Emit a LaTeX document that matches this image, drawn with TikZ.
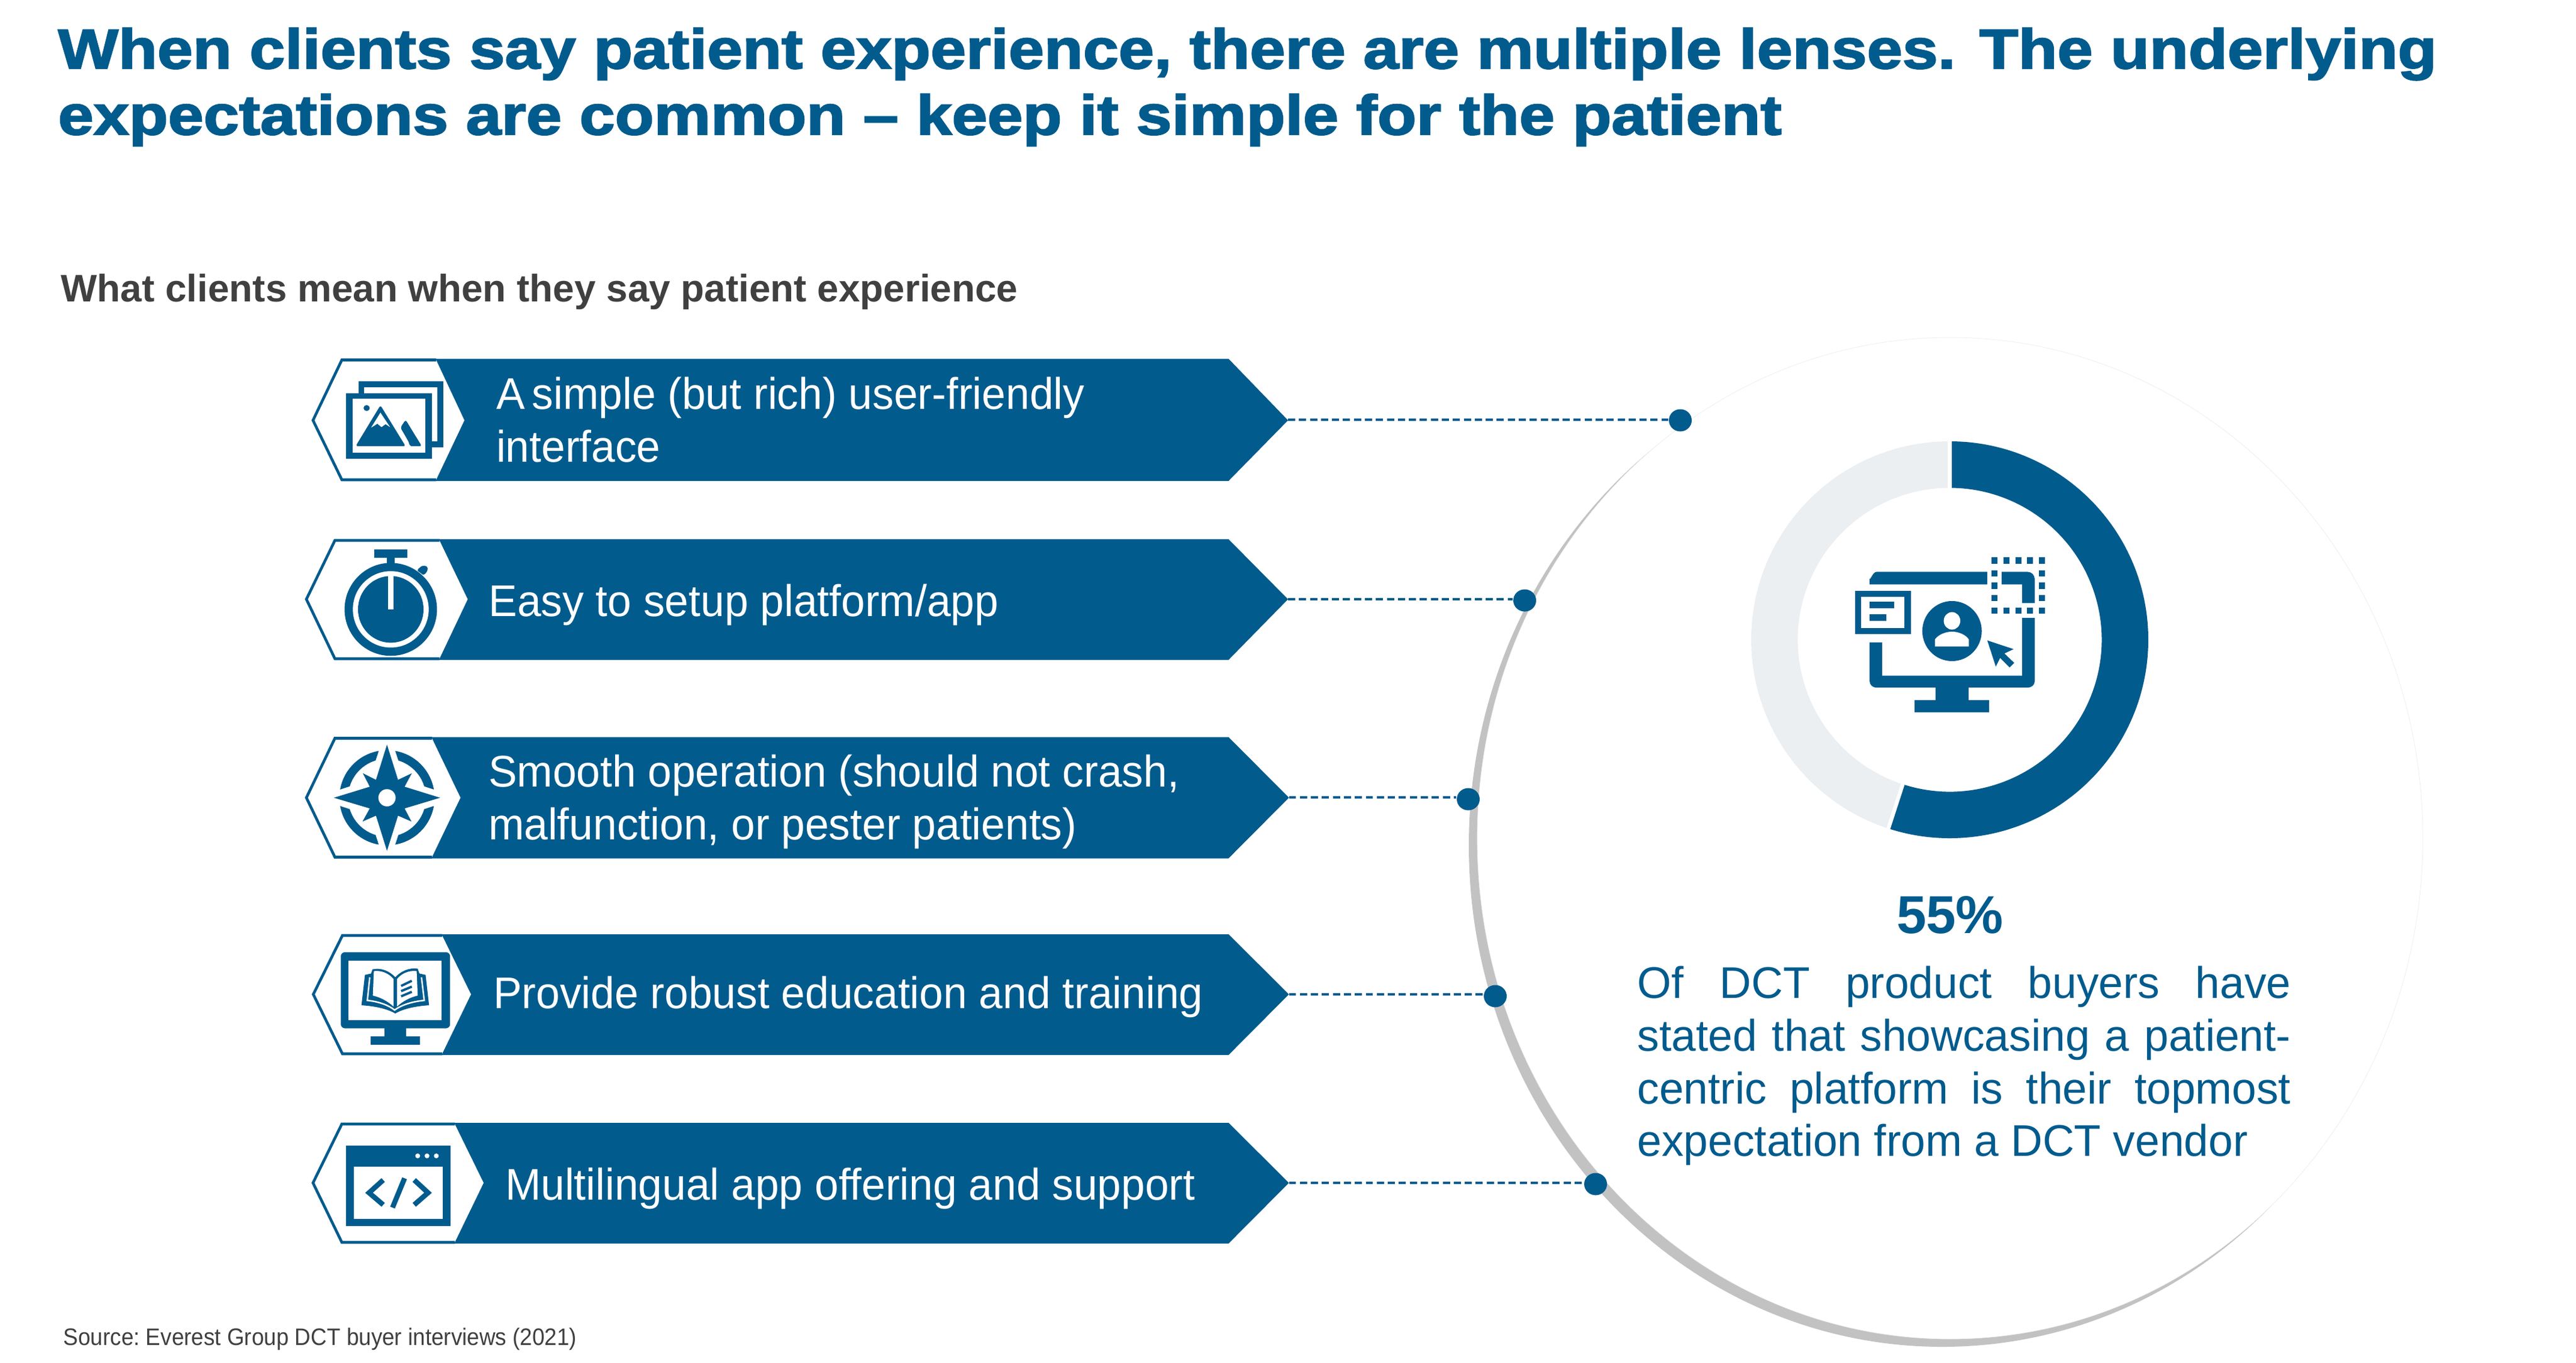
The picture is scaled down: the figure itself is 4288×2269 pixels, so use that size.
\documentclass[tikz,border=0pt]{standalone}
\usepackage{fontspec}
\setmainfont{Liberation Sans}
\newfontfamily\titlefont[FakeBold=2.4,FakeStretch=1.14]{Liberation Sans Bold}
\newfontfamily\labelfont[FakeStretch=0.966]{Liberation Sans}
\newfontfamily\bodyfont[FakeStretch=0.99]{Liberation Sans}
\newfontfamily\sourcefont[FakeStretch=0.928]{Liberation Sans}
\usetikzlibrary{shapes.geometric}
\definecolor{brand}{HTML}{025B8D}
\definecolor{ringgray}{HTML}{EBEFF2}
\definecolor{shellgray}{HTML}{C2C2C2}
\definecolor{inkgray}{HTML}{404040}
\tikzset{
  label/.style={inner sep=0pt,outer sep=0pt,anchor=base west,align=left,text=white,font=\labelfont\fontsize{21}{25}\selectfont},
  connector/.style={draw=brand,line width=1.3pt,dash pattern=on 3.4pt off 1.8pt},
  dotmark/.style={ellipse,fill=brand,inner sep=0pt,minimum width=0.38cm,minimum height=0.37cm},
  hexline/.style={draw=brand,line width=1.3pt,line join=miter}
}
\newcommand\rowshape[9]{%
  \fill[brand] (#5,#1) -- (#8,#1) -- (#9,#2) -- (#8,#3) -- (#5,#3) -- cycle;
  \fill[white] ({#4+2},#2) -- (#5,{#1+2}) -- (#6,{#1+2}) -- (#7,#2) -- (#6,{#3-2}) -- (#5,{#3-2}) -- cycle;
  \draw[hexline] (#6,{#1+2}) -- (#5,{#1+2}) -- ({#4+2.5},#2) -- (#5,{#3-2}) -- (#6,{#3-2});
}
\begin{document}
\begin{tikzpicture}[x=0.01cm,y=-0.01cm]
\useasboundingbox (0,0) rectangle (4288,2269);
\fill[white] (0,0) rectangle (4288,2269);
% title
\node[inner sep=0pt,anchor=base west,align=left,text=brand,font=\titlefont\fontsize{26.5}{31.3}\selectfont] (title) at (96,224)
 {When clients say patient experience, there are multiple lenses. The underlying\\expectations are common – keep it simple for the patient};
\node[inner sep=0pt,anchor=base west,text=inkgray,font=\bfseries\fontsize{18.15}{21}\selectfont] (subtitle) at (101,502) {What clients mean when they say patient experience};
\node[inner sep=0pt,anchor=base west,text=inkgray,font=\sourcefont\fontsize{11.3}{13}\selectfont] (source) at (105,2240) {\frenchspacing Source: Everest Group DCT buyer interviews (2021)};
% big shell
\fill[shellgray] (3233,1408) ellipse [x radius=788,y radius=835];
\fill[white] (3246,1396) ellipse [x radius=787,y radius=834];
\draw[black!7,line width=0.2pt] (3246,1396) ellipse [x radius=787,y radius=834];
% banners
\rowshape{597.5}{700}{801}{518.5}{569}{726}{773}{2045}{2144}
\rowshape{898}{998}{1099}{507.5}{557.5}{731.5}{778.5}{2045}{2144}
\rowshape{1227.5}{1328.5}{1429.5}{507.5}{557.5}{719}{766.5}{2045}{2145.5}
\rowshape{1556}{1656}{1757}{519}{570}{736}{784}{2045}{2145.5}
\rowshape{1870}{1970}{2071}{518.5}{569}{757}{805}{2045}{2145.5}
\coordinate (tip1) at (2144,699);
\coordinate (tip2) at (2144,998);
\coordinate (tip3) at (2145.5,1328);
\coordinate (tip4) at (2145.5,1656);
\coordinate (tip5) at (2145.5,1970);
% labels
\node[label] (t1) at (826,769.7) {A\kern-2.2pt{} simple (but rich) user-friendly\\interface};
\node[label] (t2) at (813.5,1026) {Easy to setup platform/app};
\node[label] (t3) at (813,1398.6) {Smooth operation (should not crash,\\malfunction, or pester patients)};
\node[label] (t4) at (821,1679) {Provide robust education and training};
\node[label] (t5) at (841,1998) {Multilingual app offering and support};
% dots and connectors
\node[dotmark] (d1) at (2797,700) {};
\node[dotmark] (d2) at (2538,1000) {};
\node[dotmark] (d3) at (2444,1331) {};
\node[dotmark] (d4) at (2489,1659) {};
\node[dotmark] (d5) at (2656,1972) {};
\foreach \i in {1,...,5} \draw[connector] (tip\i) -- (tip\i -| d\i.west);
% donut
\fill[ringgray] (3245.5,1065.5) ++(-90:330.5) arc[start angle=-90,end angle=-252,radius=330.5] -- ({3245.5+253*cos(108)},{1065.5+253*sin(108)}) arc[start angle=108,end angle=270,radius=253] -- cycle;
\fill[brand] (3245.5,1065.5) ++(-90:330.5) arc[start angle=-90,end angle=108,radius=330.5] -- ({3245.5+253*cos(108)},{1065.5+253*sin(108)}) arc[start angle=108,end angle=-90,radius=253] -- cycle;
\draw[white,line width=1.8pt] (3245.5,730) -- (3245.5,818);
\draw[white,line width=1.8pt] ({3245.5+250*cos(108)},{1065.5+250*sin(108)}) -- ({3245.5+334*cos(108)},{1065.5+334*sin(108)});
% big icon
\begin{scope}[shift={(2900,700)},x=0.005102cm,y=-0.004847cm]
  \fill[brand] (416,563) -- (416,542) to[out=-90,in=180] (438,520) -- (800,520) -- (800,563) -- cycle;
  \fill[brand] (847,520) -- (932,520) to[out=0,in=90] (955,545) -- (955,627) -- (914,627) -- (914,563) -- (847,563) -- cycle;
  \fill[brand] (914,678) -- (955,678) -- (955,895) to[out=-90,in=0] (932,917) -- (739,917) -- (739,960) -- (806,960) -- (806,1002) -- (563,1002) -- (563,960) -- (631,960) -- (631,917) -- (438,917) to[out=180,in=-90] (416,895) -- (416,762) -- (457,762) -- (457,876) -- (914,876) -- cycle;
  \foreach \px in {813,853,892,930,968} {
    \fill[brand] (\px,470) rectangle ++(20,22);
    \fill[brand] (\px,642) rectangle ++(20,21);
  }
  \foreach \py in {514,557,599} {
    \fill[brand] (813,\py) rectangle ++(20,21);
    \fill[brand] (968,\py) rectangle ++(20,21);
  }
  \fill[brand] (368,584) rectangle (551,733);
  \fill[white] (388,606) rectangle (530,712);
  \fill[brand] (416,623) rectangle (496,645);
  \fill[brand] (416,665) rectangle (470,687);
  \fill[brand] (685,723) ellipse [x radius=97,y radius=103];
  \fill[white] (685,688) ellipse [x radius=27,y radius=30];
  \fill[white] (629,776) -- (629,752) .. controls (640,735) and (665,725) .. (685,725) .. controls (705,725) and (730,735) .. (740,752) -- (740,776) -- cycle;
  \fill[brand] (800,755) -- (886,785) -- (856,800) -- (888,832) -- (873,848) -- (842,815) -- (828,845) -- cycle;
\end{scope}
% icon 1
\begin{scope}[shift={(480,560)},x=0.00574cm,y=-0.003827cm]
  \fill[brand] (203,196) rectangle (450,482);
  \fill[white] (220,222) rectangle (432,456);
  \fill[brand] (168,247) rectangle (416,533);
  \fill[white] (186,272) rectangle (398,507);
  \fill[brand] (227,312) ellipse [x radius=9,y radius=13];
  \fill[brand,rounded corners=1pt] (267,300) -- (340,478) -- (195,478) -- cycle;
  \fill[white] (267,332) -- (295,395) -- (282,382) -- (270,395) -- (258,380) -- (250,388) -- (240,397) -- cycle;
  \fill[brand,rounded corners=1pt] (340,363) -- (387,478) -- (352,478) -- (350,462) -- (325,397) -- cycle;
\end{scope}
% icon 2
\begin{scope}[shift={(480,560)},x=0.00574cm,y=-0.003827cm]
  \fill[brand] (297,1187) ellipse [x radius=134,y radius=202];
  \fill[white] (297,1187) ellipse [x radius=110,y radius=166];
  \fill[brand] (297,1187) ellipse [x radius=95,y radius=145];
  \fill[white] (289,1040) rectangle (305,1187);
  \fill[brand] (249,926) rectangle (345,962);
  \fill[brand] (286,960) rectangle (308,992);
  \fill[brand,rounded corners=1pt] (372,1018) -- (388,996) -- (404,1000) -- (404,1020) -- (392,1040) -- (385,1030) -- cycle;
\end{scope}
% icon 3
\begin{scope}[shift={(480,1200)},x=0.00574cm,y=-0.00574cm]
  \fill[brand] (286,70) -- (318,172) -- (358,153) -- (337,192) -- (440,224) -- (337,255) -- (357,293) -- (318,276) -- (286,378) -- (254,276) -- (215,293) -- (236,255) -- (132,224) -- (236,192) -- (216,153) -- (254,172) -- cycle;
  \fill[white] (286,224) circle [radius=25];
  \foreach \q in {0,90,180,270} {
    \fill[brand] ({286+138*cos(\q+10)},{224+138*sin(\q+10)}) arc[start angle=\q+10,end angle=\q+80,radius=138] -- ({286+113*cos(\q+73)},{224+113*sin(\q+73)}) arc[start angle=\q+73,end angle=\q+17,radius=113] -- cycle;
  }
\end{scope}
% icon 4
\begin{scope}[shift={(480,1200)},x=0.00574cm,y=-0.00574cm]
  \fill[brand,rounded corners=2pt] (152,672) rectangle (469,893);
  \fill[white] (175,696) rectangle (445,870);
  \fill[brand] (279,890) rectangle (341,916);
  \fill[brand] (239,916) rectangle (382,941);
  \fill[brand] (212,826) -- (222,738) -- (240,734) -- (244,722) .. controls (270,716) and (295,728) .. (310,745) .. controls (325,728) and (350,716) .. (375,720) -- (380,734) -- (398,738) -- (408,826) .. controls (375,828) and (335,835) .. (310,850) .. controls (285,835) and (245,828) .. (212,826) -- cycle;
  \fill[white] (248,727) .. controls (270,724) and (292,734) .. (305,750) -- (305,830) .. controls (290,815) and (265,802) .. (245,798) -- cycle;
  \fill[white] (372,727) .. controls (350,724) and (328,734) .. (315,750) -- (315,830) .. controls (330,815) and (355,802) .. (375,798) -- cycle;
  \draw[white,line width=0.7pt] (236,745) -- (229,812) .. controls (260,815) and (290,825) .. (308,840) .. controls (328,825) and (360,815) .. (394,812) -- (386,745);
  \draw[brand,line width=1.1pt] (327,770) -- (358,755);
  \draw[brand,line width=1.1pt] (327,785) -- (358,772);
  \draw[brand,line width=1.1pt] (327,800) -- (358,787);
\end{scope}
% icon 5
\begin{scope}[shift={(480,1200)},x=0.00574cm,y=-0.00574cm]
  \fill[brand] (168,1233) rectangle (470,1467);
  \fill[white] (190,1294) rectangle (448,1445);
  \foreach \px in {375,402,429} \fill[white] (\px,1263) circle [radius=7];
  \draw[brand,line width=2.4pt] (275,1333) -- (234,1370) -- (275,1405);
  \draw[brand,line width=2.4pt] (337,1328) -- (302,1413);
  \draw[brand,line width=2.4pt] (365,1333) -- (405,1370) -- (365,1405);
\end{scope}
% callout text
\node[inner sep=0pt,anchor=base,text=brand,font=\bfseries\fontsize{25.3}{30}\selectfont] (pct) at (3246,1554) {55\%};
\node[inner sep=0pt,anchor=north west,text=brand,text width=10.87cm,align=justify,font=\bodyfont\fontsize{21}{25}\selectfont] (body) at (2725,1608)
 {Of DCT product buyers have\linebreak stated that showcasing a patient-\linebreak centric platform is their topmost\linebreak expectation from a DCT vendor};
\end{tikzpicture}
\end{document}
